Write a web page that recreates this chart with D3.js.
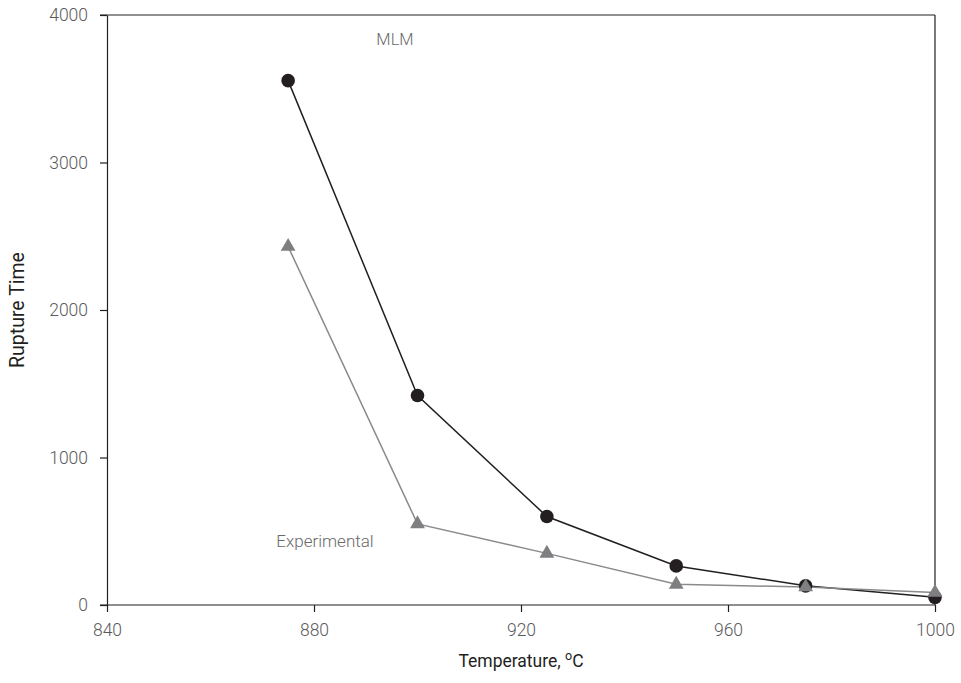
<!DOCTYPE html>
<html>
<head>
<meta charset="utf-8">
<script src="https://cdn.jsdelivr.net/npm/d3@7/dist/d3.min.js"></script>
<style>
  html, body { margin: 0; padding: 0; background: #fff; }
  svg { display: block; }
  .tick text { font-family: Roboto, "Liberation Sans", sans-serif; font-weight: 300; font-size: 17.5px; fill: #5a5a5a; }
</style>
</head>
<body>
<svg id="chart" width="961" height="683"></svg>
<script>
// Rupture time vs temperature: MLM prediction and experimental values
const temperatures = [875, 900, 925, 950, 975, 1000];
const mlmValues = [3555, 1420, 600, 265, 130, 52];
const experimentalValues = [2430, 550, 350, 140, 122, 85];
const xTicks = [840, 880, 920, 960, 1000];
const yTicks = [0, 1000, 2000, 3000, 4000];

const svg = d3.select("#chart");
const plotLeft = 107, plotRight = 935, plotTop = 15, plotBottom = 605;

const x = d3.scaleLinear().domain([840, 1000]).range([plotLeft, plotRight]);
const y = d3.scaleLinear().domain([0, 4000]).range([plotBottom, plotTop]);

const font = 'Roboto, "Liberation Sans", sans-serif';

// frame on top and right
svg.append("line").attr("x1", plotLeft - 7).attr("x2", plotRight).attr("y1", plotTop).attr("y2", plotTop)
  .attr("stroke", "#231f20").attr("stroke-width", 1.2);
svg.append("line").attr("x1", plotRight).attr("x2", plotRight).attr("y1", plotTop).attr("y2", plotBottom)
  .attr("stroke", "#231f20").attr("stroke-width", 1.2);

// axes
const xAxis = svg.append("g").attr("transform", `translate(0,${plotBottom})`)
  .call(d3.axisBottom(x).tickValues(xTicks).tickFormat(d3.format("d"))
    .tickSize(7).tickPadding(12).tickSizeOuter(0));
const yAxis = svg.append("g").attr("transform", `translate(${plotLeft},0)`)
  .call(d3.axisLeft(y).tickValues(yTicks).tickFormat(d3.format("d"))
    .tickSize(7).tickPadding(12).tickSizeOuter(0));
[xAxis, yAxis].forEach(g => {
  g.select(".domain").attr("stroke", "#231f20").attr("stroke-width", 1.2);
  g.selectAll(".tick line").attr("stroke", "#231f20").attr("stroke-width", 1.2);
});
// bottom line extends left to meet the zero tick
xAxis.select(".domain").attr("d", `M${plotLeft - 7},0H${plotRight}`);

// series lines
const line = d3.line().x((d, i) => x(temperatures[i])).y(d => y(d));
svg.append("path").datum(mlmValues).attr("d", line)
  .attr("fill", "none").attr("stroke", "#231f20").attr("stroke-width", 1.5);
svg.append("path").datum(experimentalValues).attr("d", line)
  .attr("fill", "none").attr("stroke", "#8a8a8c").attr("stroke-width", 1.5);

// markers
svg.append("g").selectAll("circle").data(mlmValues).join("circle")
  .attr("cx", (d, i) => x(temperatures[i])).attr("cy", d => y(d)).attr("r", 6.8)
  .attr("fill", "#231f20");
const tri = d3.symbol().type(d3.symbolTriangle).size(95);
svg.append("g").selectAll("path").data(experimentalValues).join("path")
  .attr("d", tri)
  .attr("transform", (d, i) => `translate(${x(temperatures[i])},${y(d)})`)
  .attr("fill", "#7f7f82");

// series labels
svg.append("text").attr("x", 395).attr("y", 45).attr("text-anchor", "middle")
  .attr("font-family", font).attr("font-weight", 300).attr("font-size", 16.5).attr("fill", "#6a6a6a")
  .text("MLM");
svg.append("text").attr("x", 325).attr("y", 547).attr("text-anchor", "middle")
  .attr("font-family", font).attr("font-weight", 300).attr("font-size", 17).attr("fill", "#6a6a6a")
  .text("Experimental");

// axis titles
const xt = svg.append("text").attr("x", 521).attr("y", 667).attr("text-anchor", "middle")
  .attr("font-family", font).attr("font-size", 17.5).attr("fill", "#231f20");
xt.append("tspan").text("Temperature, ");
xt.append("tspan").attr("dy", -7).attr("font-size", 12.5).text("o");
xt.append("tspan").attr("dy", 7).text("C");

svg.append("text").attr("transform", "translate(24,310) rotate(-90)").attr("text-anchor", "middle")
  .attr("font-family", font).attr("font-size", 19.5).attr("fill", "#231f20")
  .text("Rupture Time");
</script>
</body>
</html>
